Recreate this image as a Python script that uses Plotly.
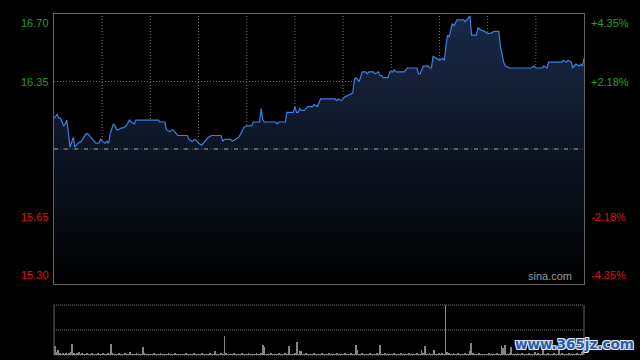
import plotly.graph_objects as go

# ---------------- data ----------------
minutes = [0, 2, 3, 4, 6, 7, 8, 9, 10, 12, 13, 15, 17, 20, 21, 23, 24, 26, 28, 29,
           30, 32, 33, 34, 35, 37, 38, 39, 40, 42, 43, 45, 47, 48, 50, 51, 65, 66, 69, 70,
           72, 74, 77, 83, 84, 86, 88, 89, 90, 92, 93, 95, 96, 98, 104, 105, 106, 110, 111, 113,
           115, 117, 118, 120, 123, 124, 128, 129, 130, 131, 138, 139, 140, 144, 145, 149, 150, 151, 152, 153,
           154, 156, 158, 161, 162, 164, 166, 175, 176, 177, 179, 181, 184, 186, 187, 188, 190, 192, 194, 195,
           196, 199, 200, 202, 203, 204, 205, 208, 209, 211, 212, 213, 218, 220, 226, 227, 228, 230, 233, 234,
           235, 236, 238, 240, 242, 243, 244, 245, 246, 247, 248, 249, 251, 255, 256, 258, 259, 260, 263, 264,
           265, 268, 270, 272, 274, 277, 278, 280, 281, 284, 285, 297, 299, 300, 304, 305, 307, 308, 310, 316,
           317, 319, 320, 322, 323, 324, 325, 327, 328, 329, 330]
prices = [16.16, 16.18, 16.16, 16.16, 16.12, 16.13, 16.15, 16.09, 16.01, 16.06, 16.01, 16.03, 16.04, 16.08, 16.08, 16.06, 16.05, 16.03, 16.03, 16.05,
          16.04, 16.03, 16.04, 16.03, 16.08, 16.13, 16.12, 16.10, 16.10, 16.11, 16.11, 16.12, 16.15, 16.14, 16.13, 16.15, 16.15, 16.14, 16.14, 16.10,
          16.09, 16.10, 16.07, 16.07, 16.05, 16.04, 16.05, 16.04, 16.03, 16.02, 16.03, 16.05, 16.06, 16.07, 16.07, 16.04, 16.05, 16.05, 16.04, 16.05,
          16.06, 16.09, 16.11, 16.12, 16.12, 16.14, 16.14, 16.21, 16.15, 16.14, 16.14, 16.13, 16.14, 16.14, 16.19, 16.19, 16.22, 16.19, 16.19, 16.21,
          16.20, 16.20, 16.22, 16.22, 16.23, 16.22, 16.26, 16.26, 16.25, 16.26, 16.25, 16.27, 16.28, 16.29, 16.36, 16.37, 16.35, 16.40, 16.40, 16.39,
          16.40, 16.40, 16.39, 16.40, 16.38, 16.38, 16.37, 16.37, 16.40, 16.40, 16.41, 16.40, 16.40, 16.42, 16.42, 16.39, 16.39, 16.43, 16.43, 16.42,
          16.42, 16.48, 16.47, 16.46, 16.47, 16.46, 16.53, 16.59, 16.58, 16.61, 16.65, 16.64, 16.67, 16.67, 16.66, 16.68, 16.69, 16.59, 16.59, 16.63,
          16.62, 16.61, 16.60, 16.60, 16.61, 16.61, 16.53, 16.45, 16.43, 16.42, 16.42, 16.42, 16.43, 16.42, 16.42, 16.43, 16.42, 16.45, 16.45, 16.45,
          16.46, 16.45, 16.46, 16.45, 16.42, 16.43, 16.44, 16.43, 16.44, 16.43, 16.47]

volume = [9, 3, 5, 2, 1, 2, 1, 2, 1, 2, 3, 11, 2, 1, 2, 3, 1, 2, 1, 1, 2, 1, 1, 2, 1, 1, 1, 2, 1, 1,
          2, 1, 1, 2, 1, 11, 2, 1, 1, 1, 2, 1, 1, 1, 2, 1, 1, 3, 1, 1, 1, 2, 1, 1, 1, 8, 2, 1, 1, 1,
          1, 1, 2, 1, 1, 1, 2, 1, 1, 1, 1, 2, 1, 1, 1, 2, 1, 1, 1, 1, 1, 1, 2, 1, 1, 1, 1, 2, 1, 1,
          1, 1, 2, 1, 1, 1, 1, 2, 1, 1, 4, 1, 1, 1, 2, 1, 19, 2, 1, 1, 1, 1, 2, 1, 1, 1, 1, 2, 1, 1,
          1, 2, 1, 1, 1, 1, 2, 1, 1, 2, 10, 8, 1, 1, 1, 2, 1, 1, 1, 1, 2, 1, 1, 1, 2, 1, 9, 1, 1, 1,
          2, 13, 1, 4, 4, 1, 1, 2, 1, 1, 1, 1, 2, 1, 1, 1, 1, 2, 1, 1, 1, 2, 1, 1, 1, 1, 2, 1, 1, 1,
          1, 2, 1, 1, 1, 2, 1, 1, 10, 5, 1, 1, 2, 1, 1, 1, 1, 2, 1, 1, 1, 2, 1, 10, 1, 1, 2, 1, 1, 1,
          1, 1, 2, 1, 1, 1, 2, 1, 1, 1, 1, 2, 1, 1, 1, 1, 2, 1, 1, 5, 2, 9, 1, 1, 2, 1, 1, 5, 1, 1,
          2, 1, 2, 1, 50, 3, 2, 1, 1, 2, 1, 1, 2, 1, 1, 1, 2, 1, 1, 4, 12, 2, 1, 1, 1, 2, 1, 1, 1, 1,
          1, 2, 1, 1, 1, 1, 2, 1, 1, 9, 7, 10, 1, 1, 2, 8, 1, 1, 1, 2, 1, 1, 2, 1, 1, 1, 2, 1, 1, 1,
          3, 1, 2, 1, 1, 6, 1, 1, 2, 1, 1, 1, 2, 1, 1, 5, 1, 2, 1, 1, 1, 2, 1, 1, 1, 1, 2, 1, 1, 3,
          4]
vol_minutes = list(range(len(volume)))

prev_close = 16.00
price_low, price_high = 15.30, 16.70
left_ticks = [16.70, 16.35, 15.65, 15.30]
left_labels = ["16.70", "16.35", "15.65", "15.30"]
right_labels = ["+4.35%", "+2.18%", "-2.18%", "-4.35%"]
grid_minutes = [30, 60, 90, 120, 150, 180, 210, 240, 270, 300]
total_minutes = 330

# ---------------- figure ----------------
W, H = 640, 360
ml, mr, mt, mb = 54, 56, 14, 5
ph = H - mt - mb
def ydom(px):  # pixel y -> paper fraction
    return (H - mb - px) / ph

fig = go.Figure()

fig.add_trace(go.Scatter(
    x=minutes, y=prices, mode="lines",
    line=dict(color="#3f7fe0", width=1.2),
    fill="tozeroy",
    fillgradient=dict(type="vertical",
                      colorscale=[[0, "#000000"], [1, "#1a2a48"]],
                      start=price_low, stop=price_high),
    xaxis="x", yaxis="y", hoverinfo="skip", showlegend=False))

fig.add_trace(go.Bar(
    x=vol_minutes, y=volume, width=0.55,
    marker=dict(color="#858585", line=dict(width=0)),
    xaxis="x2", yaxis="y2", hoverinfo="skip", showlegend=False))

border = "#646464"
gridc = "#6e6e6e"

fig.update_layout(
    width=W, height=H,
    margin=dict(l=ml, r=mr, t=mt, b=mb),
    paper_bgcolor="#000000", plot_bgcolor="#000000",
    xaxis=dict(domain=[0, 1], range=[0, total_minutes], showgrid=False, zeroline=False,
               showticklabels=False, showline=True, mirror=True, linecolor=border, linewidth=1,
               anchor="y", fixedrange=True),
    yaxis=dict(domain=[ydom(284), 1], range=[price_low, price_high], showgrid=False,
               zeroline=False, showticklabels=False, showline=True, mirror=True,
               linecolor=border, linewidth=1, anchor="x", fixedrange=True),
    xaxis2=dict(domain=[0, 1], range=[-0.5, total_minutes + 0.5], showgrid=False, zeroline=False,
                showticklabels=False, showline=False, anchor="y2", fixedrange=True),
    yaxis2=dict(domain=[0, ydom(305)], range=[0, 50], showgrid=False, zeroline=False,
                showticklabels=False, showline=False, anchor="x2", fixedrange=True),
    bargap=0,
)

shapes = []
# vertical dotted grid in price panel
for m in grid_minutes:
    shapes.append(dict(type="line", xref="x", yref="y domain", x0=m, x1=m, y0=0, y1=1,
                       line=dict(color=gridc, width=1, dash="1px,2px"), layer="below"))
# horizontal dotted grid
for v in [16.35, 15.65]:
    shapes.append(dict(type="line", xref="x domain", yref="y", x0=0, x1=1, y0=v, y1=v,
                       line=dict(color=gridc, width=1, dash="1px,2px"), layer="below"))
# previous close line
shapes.append(dict(type="line", xref="x domain", yref="y", x0=0, x1=1, y0=prev_close, y1=prev_close,
                   line=dict(color="#5a5a5a", width=1, dash="1px,2px"), layer="above"))
shapes.append(dict(type="line", xref="x domain", yref="y", x0=0, x1=1, y0=prev_close, y1=prev_close,
                   line=dict(color="#9a9a9a", width=1, dash="4px,6px"), layer="above"))
# volume panel frame
shapes.append(dict(type="line", xref="x2 domain", yref="y2 domain", x0=0, x1=0, y0=0, y1=1,
                   line=dict(color=border, width=1)))
shapes.append(dict(type="line", xref="x2 domain", yref="y2 domain", x0=1, x1=1, y0=0, y1=1,
                   line=dict(color=border, width=1)))
for yy in [1, 0.5, 0]:
    shapes.append(dict(type="line", xref="x2 domain", yref="y2 domain", x0=0, x1=1, y0=yy, y1=yy,
                       line=dict(color="#7a7a7a", width=1, dash="1px,1px"), layer="below"))
fig.update_layout(shapes=shapes)

ann = []
font = "Liberation Sans, Arial, sans-serif"
green, red = "#23a023", "#e01010"
for v, lt, rt in zip(left_ticks, left_labels, right_labels):
    col = green if v > prev_close else red
    if v == price_high:
        yanchor, yshift = "top", -1
    elif v == price_low:
        yanchor, yshift = "bottom", 1
    else:
        yanchor, yshift = "middle", 0
    ann.append(dict(xref="paper", yref="y", x=-3 / 530, y=v, text=lt, showarrow=False,
                    xanchor="right", yanchor=yanchor, yshift=yshift,
                    font=dict(family=font, size=11, color=col)))
    ann.append(dict(xref="paper", yref="y", x=1 + 5 / 530, y=v, text=rt, showarrow=False,
                    xanchor="left", yanchor=yanchor, yshift=yshift,
                    font=dict(family=font, size=11, color=col)))
ann.append(dict(xref="paper", yref="y", x=(574 - 54) / 530, y=price_low, text="sina.com",
                showarrow=False, xanchor="right", yanchor="bottom", yshift=0,
                font=dict(family=font, size=11, color="#9a9a9a")))
ann.append(dict(xref="paper", yref="paper", x=(636 - 54) / 530, y=ydom(344), text="<b>www.365jz.com</b>",
                showarrow=False, xanchor="right", yanchor="middle",
                font=dict(family="DejaVu Sans, sans-serif", size=13.5, color="#2c5da8",
                          shadow="1px 1px 0 #dfe8f5, -1px -1px 0 #dfe8f5, 1px -1px 0 #dfe8f5, -1px 1px 0 #dfe8f5")))
fig.update_layout(annotations=ann)

fig.write_html("out.html", config={"displayModeBar": False},
               post_script="document.body.style.margin='0';document.body.style.background='#000';")
